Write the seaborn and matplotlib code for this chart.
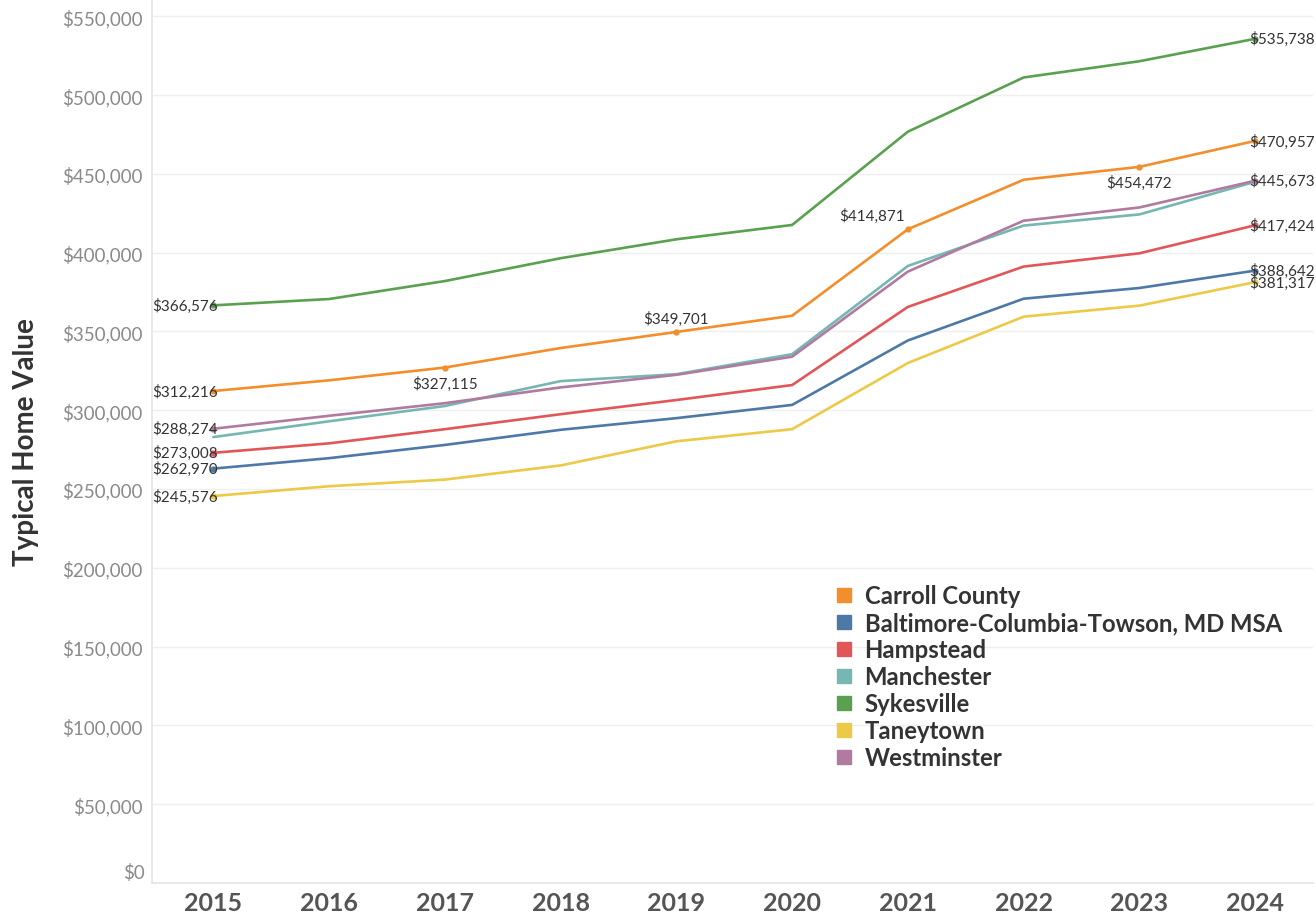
import numpy as np
import pandas as pd
import matplotlib
matplotlib.use("Agg")
import matplotlib.pyplot as plt
from matplotlib.lines import Line2D
from matplotlib.ticker import FuncFormatter
import seaborn as sns

years = [2015, 2016, 2017, 2018, 2019, 2020, 2021, 2022, 2023, 2024]
series_names = ["Carroll County", "Baltimore-Columbia-Towson, MD MSA", "Hampstead",
                "Manchester", "Sykesville", "Taneytown", "Westminster"]
carroll = [312216, 319000, 327115, 339500, 349701, 360000, 414871, 446300, 454472, 470957]
baltimore = [262970, 269600, 278000, 287600, 295000, 303400, 344300, 370800, 377600, 388642]
hampstead = [273008, 279000, 288000, 297500, 306500, 316000, 365600, 391200, 399600, 417424]
manchester = [283000, 293000, 302700, 318500, 322900, 335600, 391600, 417200, 424300, 445000]
sykesville = [366576, 370600, 382000, 396500, 408500, 417600, 476800, 511200, 521500, 535738]
taneytown = [245576, 251800, 256000, 265000, 280300, 288000, 330000, 359400, 366400, 381317]
westminster = [288274, 296500, 304500, 314500, 322500, 334000, 388000, 420300, 428700, 445673]
colors = ["#F28E2B", "#4E79A7", "#E15759", "#76B7B2", "#59A14F", "#EDC948", "#B07AA1"]

# which points get a value label: series -> list of (year index, placement)
label_points = {
    "Carroll County": [(0, "start"), (2, "below"), (4, "above"), (6, "aboveleft"), (8, "below"), (9, "end")],
    "Baltimore-Columbia-Towson, MD MSA": [(0, "start"), (9, "end")],
    "Hampstead": [(0, "start"), (9, "end")],
    "Sykesville": [(0, "start"), (9, "end")],
    "Taneytown": [(0, "start"), (9, "end")],
    "Westminster": [(0, "start"), (9, "end")],
}

all_vals = [carroll, baltimore, hampstead, manchester, sykesville, taneytown, westminster]
df = pd.DataFrame({
    "Year": np.tile(years, len(series_names)),
    "Series": np.repeat(series_names, len(years)),
    "Value": np.concatenate(all_vals),
})

sns.set_theme(style="white")
plt.rcParams["font.family"] = ["Lato", "DejaVu Sans"]

fig = plt.figure(figsize=(13.16, 9.2), dpi=100)
ax = fig.add_axes([152 / 1316, 36 / 920, (1313 - 152) / 1316, 884 / 920])

palette = dict(zip(series_names, colors))
sns.lineplot(data=df, x="Year", y="Value", hue="Series", palette=palette,
             hue_order=series_names, linewidth=1.9, ax=ax, legend=False, sort=False)

ax.set_xlim(2014.47, 2024.5)
ax.set_ylim(0, 561000)
yticks = list(range(0, 550001, 50000))
ax.set_yticks(yticks)
# bottom label is drawn separately (lifted slightly, as in the reference)
ax.yaxis.set_major_formatter(FuncFormatter(lambda v, p: "" if v == 0 else f"${v:,.0f}"))
ax.set_xticks(years)
ax.set_xticklabels([str(y) for y in years])

ax.grid(axis="y", color="#efefef", linewidth=1)
ax.grid(axis="x", visible=False)
for s in ["top", "right"]:
    ax.spines[s].set_visible(False)
ax.spines["left"].set_color("#e6e6e6")
ax.spines["bottom"].set_color("#e6e6e6")

for lbl in ax.get_yticklabels():
    lbl.set_color("#8a8a8a")
    lbl.set_fontsize(13.5)
ax.annotate(f"${yticks[0]:,.0f}", (0, yticks[0]), xycoords=("axes fraction", "data"),
            xytext=(-7, 11), textcoords="offset pixels", ha="right", va="center",
            fontsize=13.5, color="#8a8a8a", annotation_clip=False)
for lbl in ax.get_xticklabels():
    lbl.set_color("#555555")
    lbl.set_fontsize(18)
    lbl.set_fontweight("bold")
ax.tick_params(axis="y", length=0, pad=7)
ax.tick_params(axis="x", length=0, pad=6)

ax.set_xlabel("")
ax.set_ylabel("Typical Home Value", fontsize=20, fontweight="bold", color="#333333", labelpad=16)

# value labels
offsets = {
    "start": ((4, 0), "right", "center"),
    "end": ((-6, 0), "left", "center"),
    "below": ((0, -8), "center", "top"),
    "above": ((0, 6), "center", "bottom"),
    "aboveleft": ((-3, 6), "right", "bottom"),
}
for name, vals in zip(series_names, all_vals):
    for idx, place in label_points.get(name, []):
        (dx, dy), ha, va = offsets[place]
        ax.plot(years[idx], vals[idx], marker="o", markersize=3.5, color=palette[name], zorder=4)
        ax.annotate(f"${vals[idx]:,.0f}", (years[idx], vals[idx]), xytext=(dx, dy),
                    textcoords="offset pixels", ha=ha, va=va, fontsize=11,
                    color="#333333", zorder=5, annotation_clip=False)

handles = [Line2D([0], [0], marker="s", linestyle="", markersize=10,
                  markerfacecolor=c, markeredgecolor=c) for c in colors]
leg = fig.legend(handles, series_names, loc="upper left",
                 bbox_to_anchor=(824 / 1316, 1 - 573 / 920), frameon=False,
                 borderpad=0, handlelength=0.7, handletextpad=0.5, labelspacing=0.17,
                 prop={"family": ["Lato", "DejaVu Sans"], "weight": "bold", "size": 17.2})
for t in leg.get_texts():
    t.set_color("#333333")

fig.savefig("out.png", dpi=100)
